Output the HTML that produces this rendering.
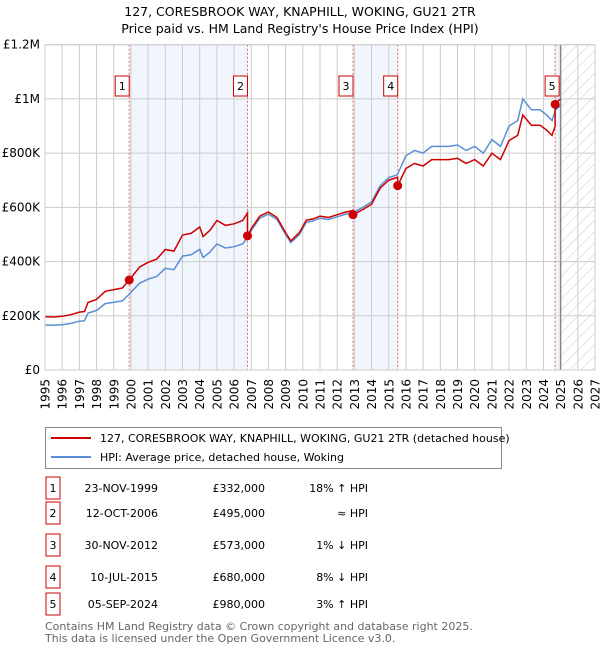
<!DOCTYPE html>
<html><head><meta charset="utf-8">
<style>
body{margin:0;background:#fff;font-family:"DejaVu Sans","Liberation Sans",sans-serif;}
#wrap{position:relative;width:600px;height:650px;overflow:hidden}
.t{position:absolute;font-size:12px;color:#000;white-space:nowrap}
</style></head><body>
<div id="wrap">
<svg id="chart" width="600" height="650" style="position:absolute;left:0;top:0"></svg>
</div>
<script>
const hpiYears=[1995,1995.5,1996,1996.5,1997,1997.3,1997.5,1998,1998.5,1999,1999.5,1999.9,2000.5,2001,2001.5,2002,2002.5,2003,2003.5,2004,2004.2,2004.6,2005,2005.5,2006,2006.5,2006.8,2007,2007.5,2008,2008.5,2009,2009.3,2009.8,2010.2,2010.6,2011,2011.5,2012,2012.5,2012.9,2013.5,2014,2014.5,2015,2015.5,2016,2016.5,2017,2017.5,2018,2018.5,2019,2019.5,2020,2020.5,2021,2021.5,2022,2022.5,2022.8,2023.3,2023.8,2024.2,2024.5,2024.7,2025];
const hpiValues=[166,165,167,172,180,182,210,220,245,250,255,280,320,335,345,375,370,420,425,445,415,435,465,450,455,465,490,515,560,575,555,500,470,500,545,550,560,555,565,575,580,600,620,680,710,720,790,810,800,825,825,825,830,810,825,800,850,825,900,920,1000,960,960,940,920,960,975];
const saleLabels=["1","2","3","4","5"];
const saleYears=[1999.9,2006.78,2012.92,2015.52,2024.68];
const salePrices=[332,495,573,680,980];
const saleDates=["23-NOV-1999","12-OCT-2006","30-NOV-2012","10-JUL-2015","05-SEP-2024"];
const salePriceText=["£332,000","£495,000","£573,000","£680,000","£980,000"];
const saleHpiText=["18% ↑ HPI","≈ HPI","1% ↓ HPI","8% ↓ HPI","3% ↑ HPI"];
const yTicks=[0,200,400,600,800,1000,1200];
const yTickLabels=["£0","£200K","£400K","£600K","£800K","£1M","£1.2M"];
const xTicks=[1995,1996,1997,1998,1999,2000,2001,2002,2003,2004,2005,2006,2007,2008,2009,2010,2011,2012,2013,2014,2015,2016,2017,2018,2019,2020,2021,2022,2023,2024,2025,2026,2027];

const NS="http://www.w3.org/2000/svg";
const svg=document.getElementById('chart');
const L=45,R=595,T=44.7,B=370;
const X=y=>L+(y-1995)/32*(R-L);
const Y=v=>B-v/1200*(B-T);
function el(tag,attrs,parent){const e=document.createElementNS(NS,tag);for(const k in attrs)e.setAttribute(k,attrs[k]);(parent||svg).appendChild(e);return e;}
function hpiAt(yr){for(let i=0;i<hpiYears.length-1;i++){if(yr>=hpiYears[i]&&yr<=hpiYears[i+1]){const f=(yr-hpiYears[i])/(hpiYears[i+1]-hpiYears[i]);return hpiValues[i]+f*(hpiValues[i+1]-hpiValues[i]);}}return hpiValues[hpiValues.length-1];}

// defs hatch
const defs=el('defs',{});
const pat=el('pattern',{id:'hatch',width:8,height:8,patternUnits:'userSpaceOnUse',patternTransform:'rotate(45)'},defs);
el('line',{x1:0,y1:0,x2:0,y2:8,stroke:'#ccc','stroke-width':1},pat);

// shaded regions
const shade=[[0,1],[2,3]];
shade.forEach((p,i)=>{const r=el('rect',{x:X(saleYears[p[0]]),y:T,width:X(saleYears[p[1]])-X(saleYears[p[0]]),height:B-T,fill:'#eef3fc',opacity:0.8});

});
const s5=el('rect',{x:X(saleYears[4]),y:T,width:X(2025)-X(saleYears[4]),height:B-T,fill:'#eef3fc'});


const hr=el('rect',{x:X(2025),y:T,width:R-X(2025),height:B-T,fill:'url(#hatch)'});



// grid
yTicks.forEach((v,i)=>{
 const g=el('line',{x1:L,x2:R,y1:Y(v),y2:Y(v),stroke:'#ccc','stroke-width':1});
 
 
 const t=el('text',{x:L-5,y:Y(v)+4,'text-anchor':'end','font-size':12,'font-family':'DejaVu Sans, sans-serif'});
 t.textContent=yTickLabels[i];
 
 
});
xTicks.forEach(yr=>{
 const g=el('line',{x1:X(yr),x2:X(yr),y1:T,y2:B,stroke:'#ccc','stroke-width':1});
 
 
 const t=el('text',{x:0,y:0,'text-anchor':'end','font-size':12,'font-family':'DejaVu Sans, sans-serif',transform:`translate(${X(yr)+4.5},379) rotate(-90)`});
 t.textContent=yr;
 
 
});
const nl=el('line',{x1:X(2025),x2:X(2025),y1:T,y2:B,stroke:'#888','stroke-width':1.5});



// sale vlines
saleYears.forEach(yr=>{
 const l=el('line',{x1:X(yr),x2:X(yr),y1:T,y2:B,stroke:'#e66','stroke-width':1,'stroke-dasharray':'2,2'});
 
 
});

// hpi line
let d='';hpiYears.forEach((yr,i)=>{d+=(i?'L':'M')+X(yr).toFixed(1)+','+Y(hpiValues[i]).toFixed(1);});
const hl=el('path',{d:d,fill:'none',stroke:'#5b8fd4','stroke-width':1.5});



// red line: hpi scaled by ratio of latest sale
const ratios=saleYears.map((yr,i)=>salePrices[i]/hpiAt(yr));
function ratioAt(yr){let r=ratios[0];saleYears.forEach((s,i)=>{if(yr>=s)r=ratios[i];});return r;}
const pts=[];
hpiYears.forEach((yr,i)=>{pts.push([yr,hpiValues[i]*ratioAt(yr)]);});
saleYears.forEach((s,i)=>{pts.push([s-0.001,hpiAt(s)*(i?ratios[i-1]:ratios[0])]);pts.push([s,salePrices[i]]);});
pts.sort((a,b)=>a[0]-b[0]);
d='';pts.forEach((p,i)=>{d+=(i?'L':'M')+X(p[0]).toFixed(1)+','+Y(p[1]).toFixed(1);});
const rl=el('path',{d:d,fill:'none',stroke:'#cc0000','stroke-width':1.5});



// dots and labels
saleYears.forEach((yr,i)=>{
 const c=el('circle',{cx:X(yr),cy:Y(salePrices[i]),r:4.5,fill:'#cc0000'});
 
 
 const bx=X(yr)-(i==4?3:7)-7;
 const r=el('rect',{x:bx,y:76,width:14,height:20,fill:'#fff',stroke:'#cc0000','stroke-width':1});
 
 
 const t=el('text',{x:bx+7,y:90,'text-anchor':'middle','font-size':11,'font-family':'DejaVu Sans, sans-serif'});
 t.textContent=saleLabels[i];
 
 
});
el('rect',{x:L,y:T,width:R-L,height:B-T,fill:'none',stroke:'#ccc'});

// titles
[['127, CORESBROOK WAY, KNAPHILL, WOKING, GU21 2TR',16,'chart-title'],["Price paid vs. HM Land Registry's House Price Index (HPI)",33,'chart-subtitle']].forEach(a=>{
 const t=el('text',{x:300,y:a[1],'text-anchor':'middle','font-size':12.5,'font-family':'DejaVu Sans, sans-serif'});
 t.textContent=a[0];
 
 
});

// legend
const lg=el('rect',{x:45.5,y:427.5,width:456,height:41,fill:'#fff',stroke:'#888'});


[['#cc0000','127, CORESBROOK WAY, KNAPHILL, WOKING, GU21 2TR (detached house)',438,'legend-entry-property'],['#5b8fd4','HPI: Average price, detached house, Woking',457,'legend-entry-hpi']].forEach(a=>{
 el('line',{x1:51,x2:91,y1:a[2],y2:a[2],stroke:a[0],'stroke-width':2});
 const t=el('text',{x:100,y:a[2]+4,'font-size':11,'font-family':'DejaVu Sans, sans-serif'});
 t.textContent=a[1];
 
 
});

// table
const rowY=[494,528,563,597,632].map(v=>410+(v-410)*0+0);
const rowsY=[494,528,562,597,631];
saleLabels.forEach((lab,i)=>{
 const y=[488,513,545,577,604][i];
 const b=el('rect',{x:46,y:y-11,width:14,height:22,fill:'#fff',stroke:'#cc0000'});
 
 
 const cells=[[53,lab,'middle'],[158,saleDates[i],'end'],[265,salePriceText[i],'end'],[368,saleHpiText[i],'end']];
 cells.forEach(c=>{const t=el('text',{x:c[0],y:y+4,'text-anchor':c[2],'font-size':11,'font-family':'DejaVu Sans, sans-serif'});
 t.textContent=c[1];
 
 });
});
[['Contains HM Land Registry data © Crown copyright and database right 2025.',630],['This data is licensed under the Open Government Licence v3.0.',642]].forEach(a=>{
 const t=el('text',{x:45,y:a[1],'font-size':11,fill:'#666','font-family':'DejaVu Sans, sans-serif'});
 t.textContent=a[0];
 
 
});
</script>
</body></html>
